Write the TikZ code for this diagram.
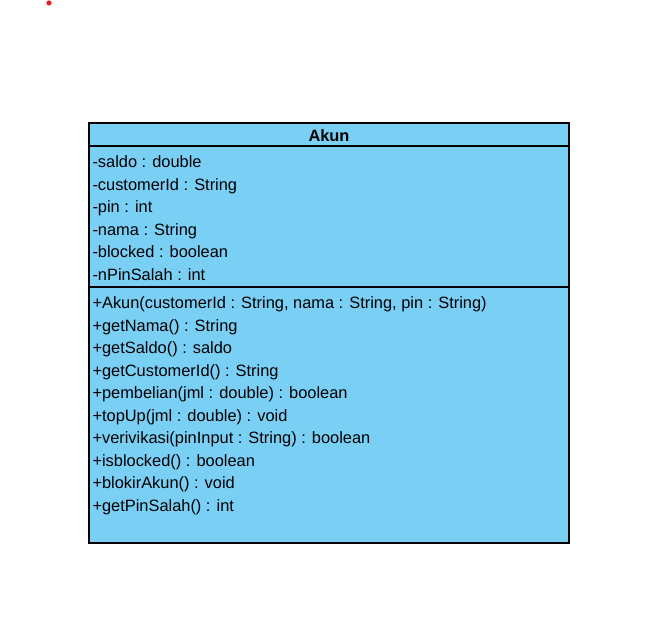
\documentclass[tikz,border=0pt]{standalone}
\usepackage{fontspec}
\setmainfont{Liberation Sans}
\usetikzlibrary{positioning}
\definecolor{classblue}{RGB}{122,207,245}
\definecolor{dotred}{RGB}{230,30,40}

\begin{document}
\begin{tikzpicture}[x=1pt,y=1pt,
        member/.style={anchor=north west,inner xsep=3.5pt,inner ysep=0pt,outer sep=0pt,
            text height=15pt,text depth=7.5pt,font=\fontsize{16.4}{19}\selectfont},
        title/.style={font=\fontsize{16.4}{19}\selectfont\bfseries,inner sep=0pt}]

    \useasboundingbox (0,0) rectangle (666,634);
    \fill[dotred] (49,631) circle (2.6);

    % class box
    \coordinate (nw) at (89,511);
    \coordinate (se) at (569,91);
    \draw[fill=classblue,line width=1.1pt] (nw) rectangle (se);
    \draw[line width=1.1pt] (89,488) -- (569,488);
    \draw[line width=1.1pt] (89,347) -- (569,347);

    \node[title] (akun) at (329,498.5) {Akun};

    % attributes
    \node[member,anchor=base west] (a1) at (89,466) {-saldo : double};
    \node[member] (a2) [below=0pt of a1.south west,anchor=north west] {-customerId : String};
    \node[member] (a3) [below=0pt of a2.south west,anchor=north west] {-pin : int};
    \node[member] (a4) [below=0pt of a3.south west,anchor=north west] {-nama : String};
    \node[member] (a5) [below=0pt of a4.south west,anchor=north west] {-blocked : boolean};
    \node[member] (a6) [below=0pt of a5.south west,anchor=north west] {-nPinSalah : int};

    % operations
    \node[member,anchor=base west] (m1) at (89,325) {+Akun(customerId : String, nama : String, pin : String)};
    \node[member] (m2) [below=0pt of m1.south west,anchor=north west] {+getNama() : String};
    \node[member] (m3) [below=0pt of m2.south west,anchor=north west] {+getSaldo() : saldo};
    \node[member] (m4) [below=0pt of m3.south west,anchor=north west] {+getCustomerId() : String};
    \node[member] (m5) [below=0pt of m4.south west,anchor=north west] {+pembelian(jml : double) : boolean};
    \node[member] (m6) [below=0pt of m5.south west,anchor=north west] {+topUp(jml : double) : void};
    \node[member] (m7) [below=0pt of m6.south west,anchor=north west] {+verivikasi(pinInput : String) : boolean};
    \node[member] (m8) [below=0pt of m7.south west,anchor=north west] {+isblocked() : boolean};
    \node[member] (m9) [below=0pt of m8.south west,anchor=north west] {+blokirAkun() : void};
    \node[member] (m10) [below=0pt of m9.south west,anchor=north west] {+getPinSalah() : int};
\end{tikzpicture}
\end{document}
